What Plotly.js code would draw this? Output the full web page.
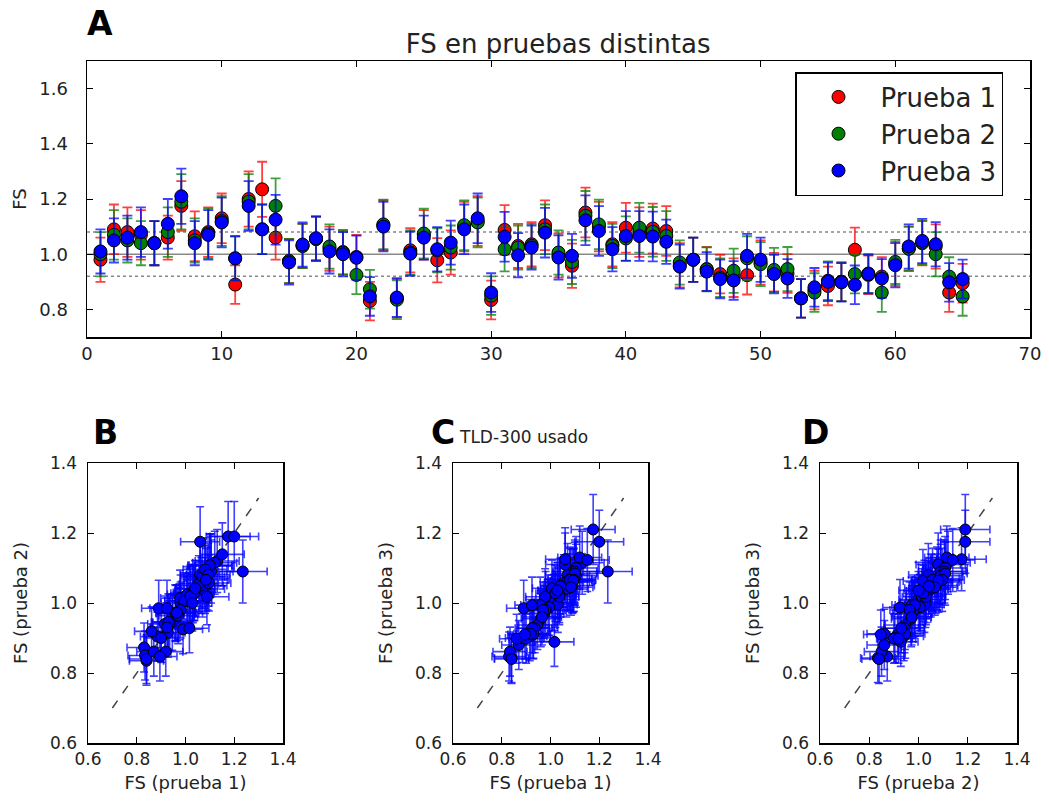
<!DOCTYPE html>
<html><head><meta charset="utf-8">
<script src="https://cdn.plot.ly/plotly-3.0.1.min.js"></script>
<style>html,body{margin:0;padding:0;background:#fff}#chart{width:1049px;height:802px}</style>
</head><body><div id="chart"></div>
<script>
// detector index
const detector = [1,2,3,4,5,6,7,8,9,10,11,12,13,14,15,16,17,18,19,20,21,22,23,24,25,26,27,28,29,30,31,32,33,34,35,36,37,38,39,40,41,42,43,44,45,46,47,48,49,50,51,52,53,54,55,56,57,58,59,60,61,62,63,64,65];
// Prueba 1 (red)
const fs1 = [0.98,1.09,1.08,1.07,1.04,1.06,1.175,1.065,1.08,1.13,0.89,1.20,1.235,1.06,0.975,1.03,1.055,1.02,1.008,0.99,0.83,1.105,0.84,1.014,1.07,0.978,1.006,1.10,1.12,0.834,1.088,1.03,1.036,1.105,0.995,0.958,1.151,1.10,1.036,1.096,1.08,1.093,1.084,0.96,0.98,0.946,0.928,0.915,0.924,0.97,0.935,0.93,0.84,0.87,0.885,0.90,1.016,0.925,0.919,0.965,1.02,1.04,1.028,0.861,0.895];
const err1 = [0.08,0.09,0.09,0.09,0.08,0.08,0.09,0.09,0.09,0.09,0.07,0.10,0.10,0.08,0.08,0.08,0.08,0.08,0.08,0.08,0.07,0.09,0.07,0.08,0.09,0.08,0.08,0.09,0.09,0.07,0.09,0.08,0.08,0.09,0.08,0.08,0.09,0.09,0.08,0.09,0.09,0.09,0.09,0.08,0.08,0.08,0.07,0.07,0.07,0.08,0.07,0.07,0.07,0.07,0.07,0.07,0.08,0.07,0.07,0.08,0.08,0.08,0.08,0.07,0.07];
// Prueba 2 (green)
const fs2 = [1.00,1.07,1.05,1.04,1.04,1.08,1.19,1.05,1.075,1.12,0.985,1.19,1.09,1.175,0.975,1.03,1.055,1.028,1.005,0.925,0.873,1.108,0.835,1.006,1.075,1.014,1.024,1.105,1.115,0.85,1.018,1.024,1.03,1.09,1.006,0.972,1.139,1.108,1.03,1.057,1.096,1.081,1.066,0.97,0.98,0.945,0.915,0.94,0.985,0.964,0.943,0.946,0.84,0.861,0.904,0.90,0.928,0.93,0.861,0.972,1.02,1.042,1.00,0.919,0.847];
const err2 = [0.08,0.09,0.08,0.08,0.08,0.09,0.10,0.08,0.09,0.09,0.08,0.10,0.09,0.10,0.08,0.08,0.08,0.08,0.08,0.07,0.07,0.09,0.07,0.08,0.09,0.08,0.08,0.09,0.09,0.07,0.08,0.08,0.08,0.09,0.08,0.08,0.09,0.09,0.08,0.08,0.09,0.09,0.09,0.08,0.08,0.08,0.07,0.08,0.08,0.08,0.08,0.08,0.07,0.07,0.07,0.07,0.07,0.07,0.07,0.08,0.08,0.08,0.08,0.07,0.07];
// Prueba 3 (blue)
const fs3 = [1.01,1.05,1.06,1.08,1.04,1.11,1.21,1.04,1.07,1.115,0.985,1.175,1.09,1.125,0.97,1.035,1.058,1.01,1.00,0.987,0.847,1.10,0.843,1.002,1.06,1.018,1.042,1.09,1.13,0.861,1.063,0.996,1.024,1.078,0.988,0.994,1.123,1.084,1.018,1.066,1.066,1.064,1.045,0.955,0.98,0.937,0.91,0.905,0.994,0.98,0.928,0.912,0.84,0.88,0.90,0.898,0.889,0.928,0.912,0.96,1.028,1.048,1.036,0.898,0.91];
const err3 = [0.08,0.08,0.08,0.09,0.08,0.09,0.10,0.08,0.09,0.09,0.08,0.09,0.09,0.09,0.08,0.08,0.08,0.08,0.08,0.08,0.07,0.09,0.07,0.08,0.08,0.08,0.08,0.09,0.09,0.07,0.09,0.08,0.08,0.09,0.08,0.08,0.09,0.09,0.08,0.09,0.09,0.09,0.08,0.08,0.08,0.07,0.07,0.07,0.08,0.08,0.07,0.07,0.07,0.07,0.07,0.07,0.07,0.07,0.07,0.08,0.08,0.08,0.08,0.07,0.07];

const seriesNames = ['Prueba 1','Prueba 2','Prueba 3'];
const seriesColors = ['#ff0000','#008000','#0000ff'];
const errColors = ['rgba(255,0,0,0.75)','rgba(0,128,0,0.75)','rgba(0,0,255,0.75)'];
const refLines = [0.92, 1.0, 1.08];
const refDash = ['dot','solid','dot'];
const diagonal = [0.7, 1.3];
const topXTicks = [0,10,20,30,40,50,60,70];
const topYTicks = [0.8,1.0,1.2,1.4,1.6];
const scatTicks = [0.6,0.8,1.0,1.2,1.4];

const FONT = 'DejaVu Sans, Verdana, sans-serif';
const vals = [fs1, fs2, fs3];
const errs = [err1, err2, err3];

const traces = [];
for (let i = 0; i < 3; i++) {
  traces.push({
    type: 'scatter', mode: 'markers', name: seriesNames[i],
    x: detector, y: vals[i], xaxis: 'x', yaxis: 'y',
    error_y: {type: 'data', array: errs[i], visible: true, color: errColors[i], thickness: 1.8, width: 5},
    marker: {color: seriesColors[i], size: 13, line: {color: '#000', width: 1}}
  });
}
// scatter panels: [x series, y series, axis suffix]
const panels = [[0,1,'2'],[0,2,'3'],[1,2,'4']];
panels.forEach(p => {
  const ax = p[2];
  traces.push({
    type: 'scatter', mode: 'lines', x: diagonal, y: diagonal,
    xaxis: 'x' + ax, yaxis: 'y' + ax, showlegend: false, hoverinfo: 'skip',
    line: {color: '#444', width: 1.5, dash: 'dash'}
  });
  traces.push({
    type: 'scatter', mode: 'markers', x: vals[p[0]], y: vals[p[1]],
    xaxis: 'x' + ax, yaxis: 'y' + ax, showlegend: false,
    error_x: {type: 'data', array: errs[p[0]], visible: true, color: errColors[2], thickness: 1.6, width: 4},
    error_y: {type: 'data', array: errs[p[1]], visible: true, color: errColors[2], thickness: 1.6, width: 4},
    marker: {color: seriesColors[2], size: 11, line: {color: '#000', width: 1}}
  });
});

function axisBase(extra) {
  return Object.assign({
    showline: true, linecolor: '#000', linewidth: 1.5, mirror: 'ticks',
    ticks: 'inside', ticklen: 6, tickwidth: 1, tickcolor: '#000',
    showgrid: false, zeroline: false,
    tickfont: {family: FONT, size: 18, color: '#222'}
  }, extra);
}

const W = 1049, H = 802;
const dx = (a, b) => [a / W, b / W];
const dy = (top, bottom) => [1 - bottom / H, 1 - top / H];

const layout = {
  width: W, height: H,
  margin: {l: 0, r: 0, t: 0, b: 0},
  paper_bgcolor: '#fff', plot_bgcolor: '#fff',
  font: {family: FONT, color: '#222'},
  title: {text: 'FS en pruebas distintas', x: 0.532, xanchor: 'center', y: 1 - 44 / H, yanchor: 'middle',
          font: {family: FONT, size: 26, color: '#222'}},
  showlegend: true,
  legend: {x: 795 / W, y: 1 - 72 / H, xanchor: 'left', yanchor: 'top', bgcolor: '#fff',
           bordercolor: '#000', borderwidth: 1.5, font: {family: FONT, size: 26, color: '#222'},
           itemwidth: 74, tracegroupgap: 0},
  xaxis: axisBase({domain: dx(87, 1030), range: [0, 70], tickvals: topXTicks, anchor: 'y'}),
  yaxis: axisBase({domain: dy(61, 337), range: [0.7, 1.7], tickvals: topYTicks, tickformat: '.1f', anchor: 'x',
                   ticklabelstandoff: 14,
                   title: {text: 'FS', standoff: 8, font: {family: FONT, size: 18, color: '#222'}}}),
  shapes: refLines.map((v, i) => ({
    type: 'line', xref: 'x domain', yref: 'y', x0: 0, x1: 1, y0: v, y1: v, layer: 'below',
    line: {color: '#888', width: 1.5, dash: refDash[i]}
  })),
  annotations: []
};

const scatX = [[88, 283], [453, 648], [820, 1017]];
const xLabels = ['FS (prueba 1)', 'FS (prueba 1)', 'FS (prueba 2)'];
const yLabels = ['FS (prueba 2)', 'FS (prueba 3)', 'FS (prueba 3)'];
['2','3','4'].forEach((ax, k) => {
  layout['xaxis' + ax] = axisBase({domain: dx(scatX[k][0], scatX[k][1]), range: [0.6, 1.4], tickvals: scatTicks,
    tickformat: '.1f', anchor: 'y' + ax, tickfont: {family: FONT, size: 17, color: '#222'},
    title: {text: xLabels[k], standoff: 8, font: {family: FONT, size: 18, color: '#222'}}});
  layout['yaxis' + ax] = axisBase({domain: dy(463, 743), range: [0.6, 1.4], tickvals: scatTicks,
    tickformat: '.1f', anchor: 'x' + ax, tickfont: {family: FONT, size: 17, color: '#222'},
    ticklabelstandoff: 6,
    title: {text: yLabels[k], standoff: 18, font: {family: FONT, size: 18, color: '#222'}}});
});

const letters = [['A', 100, 44], ['B', 105, 453], ['C', 443, 453], ['D', 815, 453]];
letters.forEach(l => layout.annotations.push({
  text: '<b>' + l[0] + '</b>', xref: 'paper', yref: 'paper', x: l[1] / W, y: 1 - l[2] / H,
  xanchor: 'center', yanchor: 'bottom', showarrow: false, borderpad: 0,
  font: {family: 'DejaVu Sans, sans-serif', size: 33, color: '#000'}
}));
layout.annotations.push({
  text: 'TLD-300 usado', xref: 'paper', yref: 'paper', x: 523 / W, y: 1 - 437 / H,
  xanchor: 'center', yanchor: 'middle', showarrow: false,
  font: {family: FONT, size: 17, color: '#222'}
});

Plotly.newPlot('chart', traces, layout, {displayModeBar: false, staticPlot: true});
</script></body></html>
